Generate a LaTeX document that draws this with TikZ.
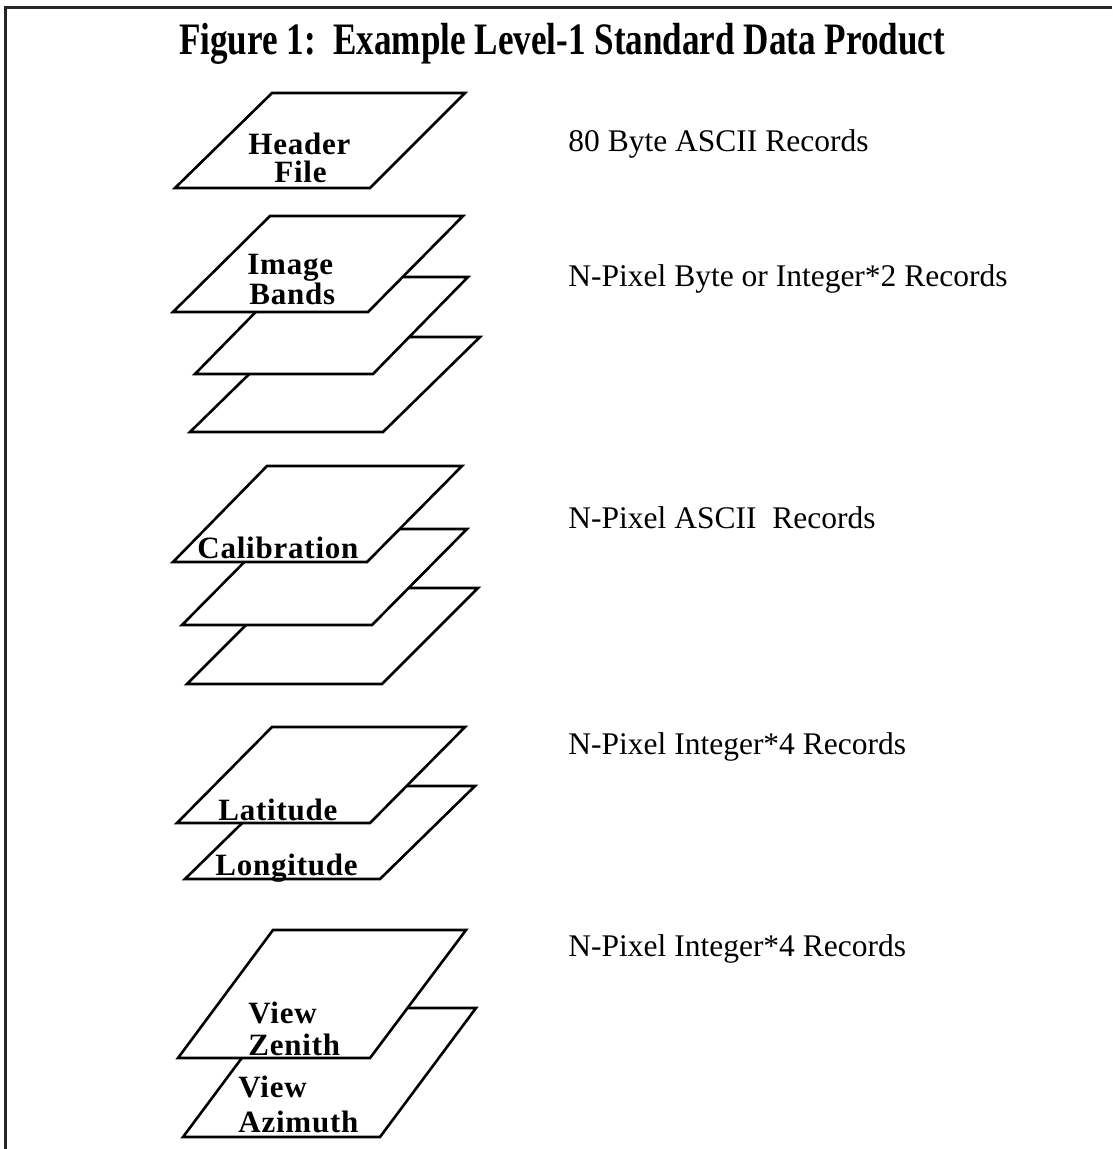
\documentclass[tikz,border=0pt]{standalone}
\usepackage{fontspec}
\setmainfont{Liberation Serif}
\newfontfamily\titlefont[FakeStretch=0.78]{Liberation Serif}
\newfontfamily\labelfont[LetterSpace=2.5]{Liberation Serif}
\tikzset{
  sheet/.style={draw=black, line width=1.3pt, fill=white, line join=miter},
  lbl/.style={font=\labelfont\bfseries\fontsize{15.5}{18}\selectfont, inner sep=0pt, anchor=base west},
  rec/.style={font=\fontsize{15.75}{18}\selectfont, inner sep=0pt, anchor=base west},
  frame/.style={draw=black!85, line width=1.5pt},
}
\newcommand\drawsheet[4]{\draw[sheet] #1 -- #2 -- #3 -- #4 -- cycle;}
\begin{document}
\begin{tikzpicture}[x=0.5pt, y=-0.5pt]
\useasboundingbox (0,0) rectangle (1112,1149);
% frame
\coordinate (fc) at (5,8);
\coordinate (fr) at (1112,8);
\coordinate (fb) at (5,1149);
\draw[frame] (fr) -- (fc) -- (fb);
% title
\node[inner sep=0pt, anchor=base, font=\titlefont\bfseries\fontsize{22.5}{26}\selectfont] (title) at (562,55) {Figure 1:\ \ Example Level-1 Standard Data Product};
% header file
\drawsheet{(272,93)}{(465,93)}{(370,188)}{(175,188)}
\node[lbl] (header) at (248,155) {Header};
\node[lbl] (file) at (274,183) {File};
% image bands
\drawsheet{(287,337)}{(480,337)}{(383,432)}{(190,432)}
\drawsheet{(290,277)}{(468,277)}{(373,374)}{(195,374)}
\drawsheet{(270,216)}{(463,216)}{(368,312)}{(173,312)}
\node[lbl] (image) at (247,275) {Image};
\node[lbl] (bands) at (249,305) {Bands};
% calibration
\drawsheet{(283,588)}{(478,588)}{(382,684)}{(187,684)}
\drawsheet{(277,529)}{(467,529)}{(372,625)}{(182,625)}
\drawsheet{(267,466)}{(462,466)}{(367,562)}{(173,562)}
\node[lbl] (calib) at (197,558) {Calibration};
% latitude / longitude
\drawsheet{(280,786)}{(475,786)}{(380,879)}{(185,879)}
\drawsheet{(272,727)}{(465,727)}{(370,823)}{(177,823)}
\node[lbl] (lat) at (218,820) {Latitude};
\node[lbl] (lon) at (215,875) {Longitude};
% view zenith / azimuth
\drawsheet{(279,1008)}{(476,1008)}{(380,1137)}{(183,1137)}
\drawsheet{(273,930)}{(466,930)}{(370,1058)}{(178,1058)}
\node[lbl] (vz1) at (248,1023) {View};
\node[lbl] (vz2) at (248,1055) {Zenith};
\node[lbl] (va1) at (238,1097) {View};
\node[lbl] (va2) at (238,1132) {Azimuth};
% record descriptions
\node[rec] (r1) at (568,152) {80 Byte ASCII Records};
\node[rec] (r2) at (568,287) {N-Pixel Byte or Integer*2 Records};
\node[rec] (r3) at (568,528) {N-Pixel ASCII\ \ Records};
\node[rec] (r4) at (568,754) {N-Pixel Integer*4 Records};
\node[rec] (r5) at (568,956) {N-Pixel Integer*4 Records};
\end{tikzpicture}
\end{document}
